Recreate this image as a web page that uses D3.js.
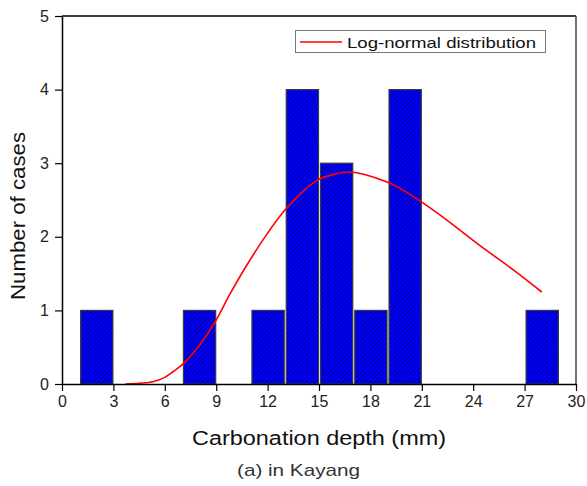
<!DOCTYPE html>
<html><head><meta charset="utf-8">
<script src="https://cdn.jsdelivr.net/npm/d3@7"></script>
<style>body{margin:0;background:#fff}svg{display:block}text{font-family:"Liberation Sans",Arial,sans-serif}</style>
</head><body><div id="chart"></div>
<script>
const binCenters = [2, 8, 12, 14, 16, 18, 20, 28];
const binCounts = [1, 1, 1, 4, 3, 1, 4, 1];
const binWidth = 2;
const curveX = [3.7, 4.5, 5.3, 6.0, 6.5, 7.1, 8.0, 9.0, 9.8, 10.8, 12.0, 13.0, 13.9, 14.9, 15.9, 16.7, 17.6, 19.0, 20.0, 21.0, 22.5, 24.4, 26.4, 28.0];
const curveY = [0, 0.01, 0.03, 0.09, 0.17, 0.28, 0.52, 0.87, 1.22, 1.62, 2.05, 2.36, 2.58, 2.77, 2.85, 2.88, 2.85, 2.74, 2.62, 2.47, 2.22, 1.88, 1.54, 1.25];
const xTicks = [0, 3, 6, 9, 12, 15, 18, 21, 24, 27, 30];
const yTicks = [0, 1, 2, 3, 4, 5];
const legendLabel = "Log-normal distribution";
const xTitle = "Carbonation depth (mm)";
const yTitle = "Number of cases";
const caption = "(a) in Kayang";

const W = 587, H = 486;
const m = {left: 62, right: 11, top: 16, bottom: 102};
const svg = d3.select("#chart").append("svg").attr("width", W).attr("height", H);
const x = d3.scaleLinear().domain([0, 30]).range([m.left, W - m.right]);
const y = d3.scaleLinear().domain([0, 5]).range([H - m.bottom, m.top]);

const defs = svg.append("defs");
const pat = defs.append("pattern").attr("id", "hatch").attr("patternUnits", "userSpaceOnUse")
  .attr("width", 3.2).attr("height", 3.2).attr("patternTransform", "rotate(45)");
pat.append("rect").attr("width", 3.2).attr("height", 3.2).attr("fill", "#0000ff");
pat.append("line").attr("x1", 0).attr("y1", 0).attr("x2", 0).attr("y2", 3.2)
  .attr("stroke", "#000").attr("stroke-width", 0.8);

// frame top & right
svg.append("line").attr("x1", x(0)).attr("x2", x(30)).attr("y1", y(5)).attr("y2", y(5)).attr("stroke", "#000").attr("stroke-width", 1.5);
svg.append("line").attr("x1", x(30)).attr("x2", x(30)).attr("y1", y(5)).attr("y2", y(0)).attr("stroke", "#444").attr("stroke-width", 1.5);

// bars
const bars = binCenters.map((c, i) => ({c, n: binCounts[i]}));
svg.append("g").selectAll("rect").data(bars).join("rect")
  .attr("x", d => x(d.c - binWidth / 2) + 1.5)
  .attr("width", d => x(d.c + binWidth / 2) - x(d.c - binWidth / 2) - 2)
  .attr("y", d => y(d.n))
  .attr("height", d => y(0) - y(d.n))
  .attr("fill", "url(#hatch)")
  .attr("stroke", "#3a3a3a").attr("stroke-width", 1.2);

// curve
const pts = curveX.map((v, i) => [v, curveY[i]]);
svg.append("path").datum(pts)
  .attr("d", d3.line().x(d => x(d[0])).y(d => y(d[1])).curve(d3.curveCatmullRom.alpha(0.5)))
  .attr("fill", "none").attr("stroke", "#ff0000").attr("stroke-width", 1.6);

// axes
const xAxis = svg.append("g").attr("transform", `translate(0,${y(0)})`)
  .call(d3.axisBottom(x).tickValues(xTicks).tickFormat(d3.format("d")).tickSize(7).tickPadding(5).tickSizeOuter(0));
const yAxis = svg.append("g").attr("transform", `translate(${x(0)},0)`)
  .call(d3.axisLeft(y).tickValues(yTicks).tickFormat(d3.format("d")).tickSize(7).tickPadding(6).tickSizeOuter(0));
[xAxis, yAxis].forEach(g => {
  g.attr("font-size", 16).attr("font-family", '"Liberation Sans",Arial,sans-serif');
  g.select(".domain").attr("stroke", "#000").attr("stroke-width", 1.5);
  g.selectAll(".tick line").attr("stroke", "#000").attr("stroke-width", 1.2);
  g.selectAll(".tick text").attr("fill", "#222");
});

// titles
svg.append("text").attr("x", 319).attr("y", 445).attr("text-anchor", "middle")
  .attr("font-size", 20).attr("fill", "#111")
  .attr("textLength", 254).attr("lengthAdjust", "spacingAndGlyphs").text(xTitle);
svg.append("text").attr("transform", "translate(25,216) rotate(-90)").attr("text-anchor", "middle")
  .attr("font-size", 20).attr("fill", "#111")
  .attr("textLength", 168).attr("lengthAdjust", "spacingAndGlyphs").text(yTitle);
svg.append("text").attr("x", 298.5).attr("y", 476).attr("text-anchor", "middle")
  .attr("font-size", 17).attr("fill", "#333")
  .attr("textLength", 123).attr("lengthAdjust", "spacingAndGlyphs").text(caption);

// legend
const lg = svg.append("g");
lg.append("rect").attr("x", 295.5).attr("y", 30.5).attr("width", 250).attr("height", 22)
  .attr("fill", "#fff").attr("stroke", "#777").attr("stroke-width", 1);
lg.append("line").attr("x1", 300).attr("x2", 342).attr("y1", 42).attr("y2", 42)
  .attr("stroke", "#ff0000").attr("stroke-width", 1.6);
lg.append("text").attr("x", 347).attr("y", 47.5).attr("font-size", 15).attr("fill", "#111")
  .attr("textLength", 189).attr("lengthAdjust", "spacingAndGlyphs").text(legendLabel);
</script></body></html>
